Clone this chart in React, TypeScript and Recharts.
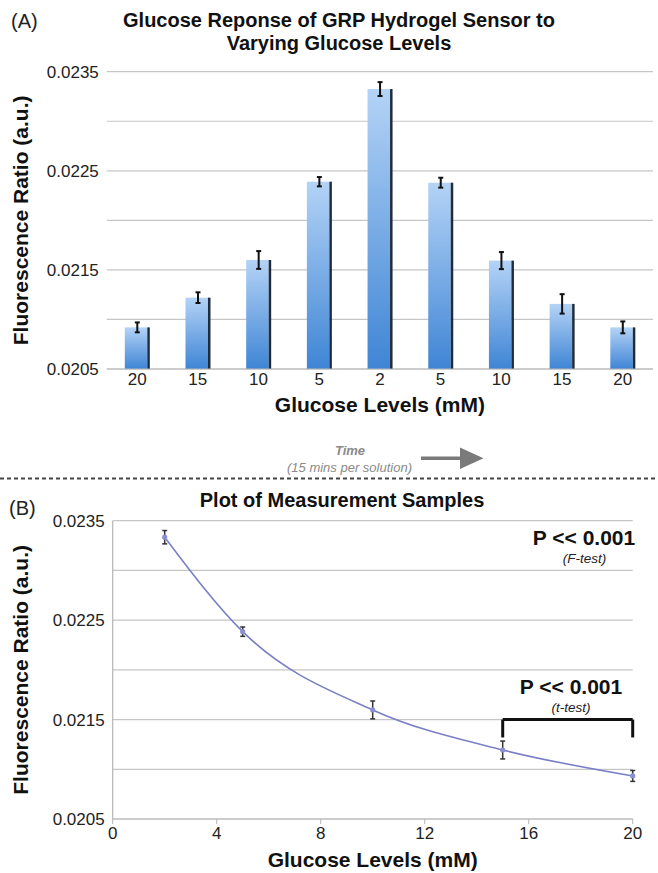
import React from "react";
import {
  Bar,
  BarChart,
  CartesianGrid,
  ErrorBar,
  Line,
  LineChart,
  ReferenceLine,
  XAxis,
  YAxis,
} from "recharts";

const FONT = '"Liberation Sans", Arial, sans-serif';

// (A) bar chart, in time order
const barLabels = ["20", "15", "10", "5", "2", "5", "10", "15", "20"];
const barValues = [0.02092, 0.02122, 0.0216, 0.02239, 0.023325, 0.02238, 0.021594, 0.021157, 0.02092];
const barErrors = [0.00005, 0.000054, 0.00009, 0.000047, 0.00007, 0.00005, 0.000086, 0.000098, 0.00006];

// (B) measurement samples
const glucoseLevels = [2, 5, 10, 15, 20];
const sampleMeans = [0.023334, 0.022384, 0.021597, 0.021194, 0.020933];
const sampleErrors = [0.000067, 0.000047, 0.00009, 0.00009, 0.000055];

// axes
const yTickValues = [0.0205, 0.021, 0.0215, 0.022, 0.0225, 0.023, 0.0235];
const yTickLabels = ["0.0205", "", "0.0215", "", "0.0225", "", "0.0235"];
const xTicksB = [0, 4, 8, 12, 16, 20];

const barData = barLabels.map((label, i) => ({
  label,
  value: barValues[i],
  err: barErrors[i],
}));

const lineData = glucoseLevels.map((level, i) => ({
  level,
  mean: sampleMeans[i],
  err: sampleErrors[i],
}));

const tickStyle = { fill: "#222", fontSize: 17, fontFamily: FONT };
const axisTitleStyle = { fill: "#111", fontSize: 21, fontWeight: 700, fontFamily: FONT };

const BarShape = (props: any) => {
  const { x, y, width, height } = props;
  if (!height || height <= 0) return null;
  return (
    <g>
      <rect x={x} y={y} width={width - 2.5} height={height} fill="url(#barFill)" />
      <rect x={x + width - 2.5} y={y} width={2.5} height={height} fill="#1f2c3d" />
    </g>
  );
};

const App = () => {
  return (
    <div style={{ position: "absolute", left: 0, top: 0, width: 658, height: 873, background: "#fff", fontFamily: FONT }}>
      {/* Panel A */}
      <div style={{ position: "absolute", left: 0, top: 0 }}>
        <BarChart
          width={658}
          height={420}
          data={barData}
          margin={{ top: 71.7, right: 5, bottom: 1, left: 0 }}
        >
          <defs>
            <linearGradient id="barFill" x1="0" y1="0" x2="0" y2="1">
              <stop offset="0%" stopColor="#b4d3f6" />
              <stop offset="100%" stopColor="#3f85d5" />
            </linearGradient>
          </defs>
          <CartesianGrid vertical={false} stroke="#c6c6c6" strokeWidth={1.2} />
          <XAxis
            dataKey="label"
            height={50}
            tick={tickStyle}
            tickLine={false}
            tickSize={2}
            tickMargin={2}
            axisLine={{ stroke: "#b5b5b5", strokeWidth: 1.2 }}
            label={{ value: "Glucose Levels (mM)", position: "insideBottom", offset: 7, style: axisTitleStyle }}
          />
          <YAxis
            width={106.8}
            domain={[0.0205, 0.0235]}
            ticks={yTickValues}
            tickFormatter={(v: number, i: number) => yTickLabels[i]}
            tick={tickStyle}
            tickLine={false}
            axisLine={false}
            allowDataOverflow
            label={{
              value: "Fluorescence Ratio (a.u.)",
              angle: -90,
              position: "insideLeft",
              offset: 21,
              style: { ...axisTitleStyle, textAnchor: "middle" },
            }}
          />
          <Bar dataKey="value" barSize={25} shape={<BarShape />} isAnimationActive={false}>
            <ErrorBar dataKey="err" width={2.5} strokeWidth={2} stroke="#111" direction="y" />
          </Bar>
        </BarChart>
      </div>

      {/* Panel B */}
      <div style={{ position: "absolute", left: 0, top: 480 }}>
        <LineChart
          width={658}
          height={393}
          data={lineData}
          margin={{ top: 40.7, right: 25.3, bottom: 0, left: 0 }}
        >
          <CartesianGrid vertical={false} stroke="#c6c6c6" strokeWidth={1.2} />
          <XAxis
            dataKey="level"
            type="number"
            domain={[0, 20]}
            ticks={xTicksB}
            height={54}
            tick={tickStyle}
            tickSize={5}
            tickMargin={3}
            tickLine={{ stroke: "#b5b5b5" }}
            axisLine={{ stroke: "#b5b5b5", strokeWidth: 1.2 }}
            label={{ value: "Glucose Levels (mM)", position: "insideBottom", offset: 6, style: axisTitleStyle }}
          />
          <YAxis
            width={112.7}
            domain={[0.0205, 0.0235]}
            ticks={yTickValues}
            tickFormatter={(v: number, i: number) => yTickLabels[i]}
            tick={tickStyle}
            tickLine={false}
            axisLine={{ stroke: "#b5b5b5", strokeWidth: 1.2 }}
            allowDataOverflow
            label={{
              value: "Fluorescence Ratio (a.u.)",
              angle: -90,
              position: "insideLeft",
              offset: 21,
              style: { ...axisTitleStyle, textAnchor: "middle" },
            }}
          />
          <ReferenceLine
            segment={[{ x: 15, y: 0.0215 }, { x: 20, y: 0.0215 }]}
            stroke="#111"
            strokeWidth={3}
          />
          <ReferenceLine
            segment={[{ x: 15, y: 0.0215 }, { x: 15, y: 0.02132 }]}
            stroke="#111"
            strokeWidth={3}
          />
          <ReferenceLine
            segment={[{ x: 20, y: 0.0215 }, { x: 20, y: 0.02132 }]}
            stroke="#111"
            strokeWidth={3}
          />
          <Line
            type="monotone"
            dataKey="mean"
            stroke="#7b80c6"
            strokeWidth={1.6}
            dot={{ r: 1.8, fill: "#8a8fd2", stroke: "#8a8fd2" }}
            isAnimationActive={false}
          >
            <ErrorBar dataKey="err" width={2.5} strokeWidth={1.5} stroke="#333" direction="y" />
          </Line>
        </LineChart>
      </div>

      {/* titles, annotations, divider */}
      <svg
        width={658}
        height={873}
        style={{ position: "absolute", left: 0, top: 0, pointerEvents: "none" }}
        fontFamily={FONT}
      >
        <text x={11} y={21} fontSize={20} fill="#222" dominantBaseline="central">(A)</text>
        <text x={339} y={20} fontSize={20} fontWeight={700} fill="#111" textAnchor="middle" dominantBaseline="central">
          Glucose Reponse of GRP Hydrogel Sensor to
        </text>
        <text x={339} y={43} fontSize={20} fontWeight={700} fill="#111" textAnchor="middle" dominantBaseline="central">
          Varying Glucose Levels
        </text>

        <text x={350} y={450} fontSize={13} fontWeight={700} fontStyle="italic" fill="#8a8a8a" textAnchor="middle" dominantBaseline="central">
          Time
        </text>
        <text x={349.5} y={467} fontSize={13} fontStyle="italic" fill="#8a8a8a" textAnchor="middle" dominantBaseline="central">
          (15 mins per solution)
        </text>
        <line x1={421} y1={458.3} x2={462} y2={458.3} stroke="#7a7a7a" strokeWidth={3.5} />
        <polygon points="460,447.5 483.5,458.3 460,469" fill="#7a7a7a" />

        <line x1={0} y1={478.5} x2={658} y2={478.5} stroke="#444" strokeWidth={2} strokeDasharray="4 3" />

        <text x={9} y={508} fontSize={20} fill="#222" dominantBaseline="central">(B)</text>
        <text x={342} y={500} fontSize={20} fontWeight={700} fill="#111" textAnchor="middle" dominantBaseline="central">
          Plot of Measurement Samples
        </text>

        <text x={584} y={545} fontSize={21} fontWeight={700} fill="#111" textAnchor="middle">P &lt;&lt; 0.001</text>
        <text x={584.5} y={563} fontSize={13.5} fontStyle="italic" fill="#222" textAnchor="middle">(F-test)</text>
        <text x={571} y={694} fontSize={21} fontWeight={700} fill="#111" textAnchor="middle">P &lt;&lt; 0.001</text>
        <text x={571} y={712} fontSize={13.5} fontStyle="italic" fill="#222" textAnchor="middle">(t-test)</text>
      </svg>
    </div>
  );
};

export default App;
